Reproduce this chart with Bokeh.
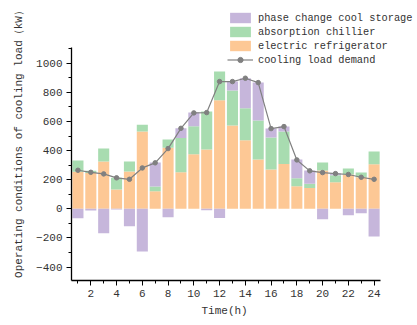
from bokeh.plotting import figure
from bokeh.models import ColumnDataSource, Legend, LegendItem, Range1d, FixedTicker, Title
from bokeh.embed import file_html
from bokeh.resources import INLINE

hours = list(range(1, 25))
electric = [255, 247, 325, 133, 256, 531, 121, 419, 251, 375, 407, 746,
            572, 471, 339, 270, 308, 155, 144, 263, 183, 236, 217, 306]
absorption = [77, 15, 89, 80, 69, 47, 32, 57, 236, 192, 261, 197,
              240, 220, 267, 220, 223, 55, 28, 55, 47, 41, 32, 87]
storage = [-65, -12, -167, -5, -119, -293, 165, -58, 66, 94, -10, -62,
           62, 206, 261, 61, 34, 129, 91, -71, 12, -44, -30, -190]
demand = [265, 251, 240, 213, 203, 281, 316, 414, 553, 659, 661, 874,
          874, 897, 867, 551, 565, 336, 261, 249, 242, 236, 217, 203]
x_ticks = list(range(2, 25, 2))
y_ticks = [-400, -200, 0, 200, 400, 600, 800, 1000]

C_E = "#FDC895"
C_A = "#A8DCB0"
C_P = "#C6B6DB"
FONT = "Liberation Mono"

e_top = electric
a_bot = electric
a_top = [e + a for e, a in zip(electric, absorption)]
p_bot = [t if s > 0 else s for t, s in zip(a_top, storage)]
p_top = [t + s if s > 0 else 0 for t, s in zip(a_top, storage)]

src = ColumnDataSource(dict(x=hours, e_top=e_top, a_bot=a_bot, a_top=a_top,
                            p_bot=p_bot, p_top=p_top, demand=demand))

p = figure(width=417, height=325, output_backend="svg", toolbar_location=None,
           x_range=Range1d(0.5, 27.37), y_range=Range1d(-492, 1417),
           min_border_left=71, min_border_right=0, min_border_top=2, min_border_bottom=45)
p.outline_line_color = None
p.xgrid.visible = False
p.ygrid.visible = False

W = 0.86
r_e = p.vbar(x="x", bottom=0, top="e_top", width=W, source=src, fill_color=C_E, line_color=None)
r_a = p.vbar(x="x", bottom="a_bot", top="a_top", width=W, source=src, fill_color=C_A, line_color=None)
r_p = p.vbar(x="x", bottom="p_bot", top="p_top", width=W, source=src, fill_color=C_P, line_color=None)
r_l = p.line(x="x", y="demand", source=src, line_color="#808080", line_width=1.2)
r_s = p.scatter(x="x", y="demand", source=src, size=4.5, fill_color="#808080", line_color="#808080")

for ax in (p.xaxis[0], p.yaxis[0]):
    ax.axis_line_color = "black"
    ax.axis_line_width = 1.3
    ax.major_tick_line_color = "black"
    ax.minor_tick_line_color = "black"
    ax.major_tick_out = 5
    ax.major_tick_in = 0
    ax.minor_tick_out = 3
    ax.minor_tick_in = 0
    ax.major_label_text_font = FONT
    ax.major_label_text_font_size = "11px"
    ax.major_label_text_color = "#333333"
    ax.axis_label_text_font = FONT
    ax.axis_label_text_font_size = "11px"
    ax.axis_label_text_font_style = "normal"
    ax.axis_label_text_color = "#333333"

p.xaxis.bounds = (0.5, 24.5)
p.yaxis.bounds = (-492, 1106)
p.xaxis.ticker = FixedTicker(ticks=x_ticks, minor_ticks=list(range(1, 25)))
p.yaxis.ticker = FixedTicker(ticks=y_ticks, minor_ticks=list(range(-400, 1101, 100)))
p.yaxis.axis_label = "Operating conditions of cooling load（kW）"
p.yaxis.axis_label_standoff = 8
p.yaxis.major_label_standoff = 4
p.xaxis.major_label_standoff = 4

xlabel = Title(text="Time(h)", align="left", offset=130, text_font=FONT,
               text_font_size="11px", text_font_style="normal", text_color="#333333",
               standoff=6)
p.add_layout(xlabel, "below")

legend = Legend(items=[
    LegendItem(label="phase change cool storage", renderers=[r_p]),
    LegendItem(label="absorption chillier", renderers=[r_a]),
    LegendItem(label="electric refrigerator", renderers=[r_e]),
    LegendItem(label="cooling load demand", renderers=[r_l, r_s]),
], location=(156, 214))
legend.background_fill_alpha = 0
legend.border_line_color = None
legend.padding = 0
legend.margin = 0
legend.spacing = 1
legend.glyph_width = 26
legend.glyph_height = 13
legend.label_height = 13
legend.label_standoff = 5
legend.label_text_font = FONT
legend.label_text_font_size = "10.3px"
legend.label_text_color = "#333333"
legend.label_text_baseline = "middle"
p.add_layout(legend, "center")

open("out.html", "w").write(file_html(p, INLINE))
